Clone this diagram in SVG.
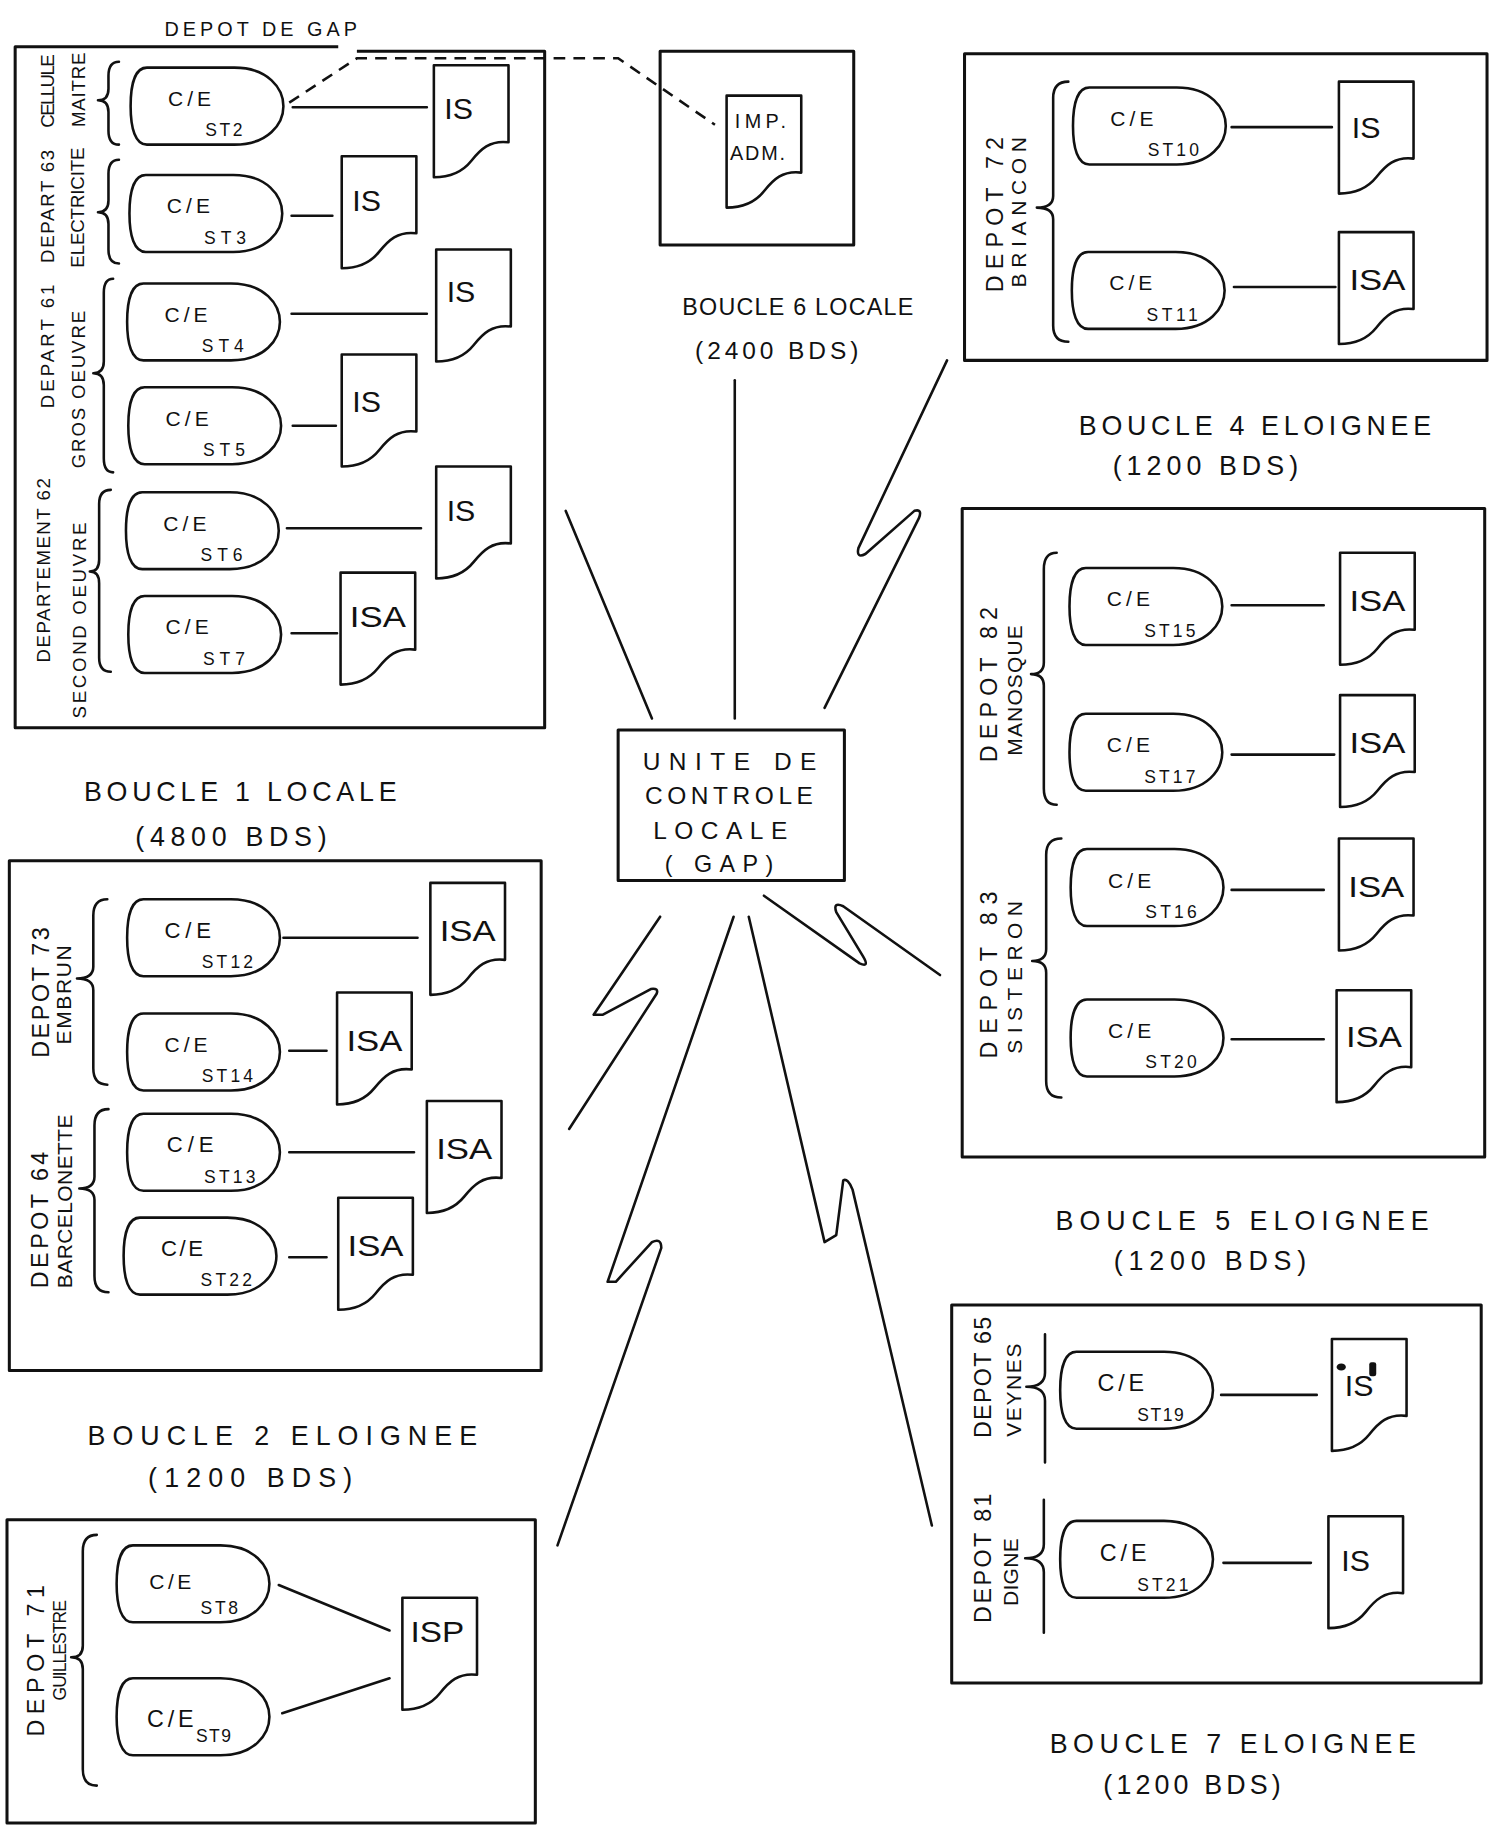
<svg xmlns="http://www.w3.org/2000/svg" xmlns:xlink="http://www.w3.org/1999/xlink" width="1495" height="1829" viewBox="0 0 1495 1829">
<style>
.b{fill:none;stroke:#111;stroke-width:2.6;stroke-linejoin:round}
.c{fill:none;stroke:#111;stroke-width:2.2;stroke-linecap:round;stroke-linejoin:round}
.d{fill:none;stroke:#111;stroke-width:2.2;stroke-dasharray:10 7}
.s{fill:#fff;stroke:#111;stroke-width:2.2;stroke-linejoin:round}
.t{font-family:"Liberation Sans",Arial,sans-serif;fill:#111}
.big{font-size:23px}
.v{font-size:16px}
.vb{font-size:20px}
.vs{font-size:18px}
.ce{font-size:18px}
.sn{font-size:15px}
.dt{font-size:26px}
</style>
<defs>
<path id="stn" d="M14,0 H89 C118,0 131,18 131,33 C131,48 118,66 89,66 H14 C4,66 0,52 0,33 C0,14 4,0 14,0 Z"/>
<path id="doc" d="M0,0 H64 V66 C48,64 40,72 32,82 C24,92 12,96 0,96 Z"/>
</defs>
<rect width="1495" height="1829" fill="#fff"/>
<g transform="scale(1.1663)">

<!-- Connectors -->
<g id="connectors">
<path class="d" d="M248,88 L306,50 H530 L613,107"/>
<path class="c" d="M251,92 H366 M250,185 H285 M250,269 H366 M251,365 H288 M246,453 H361 M250,543 H289"/>
<path class="c" d="M1056,109 H1142 M1058,246 H1145 M1056,519 H1135 M1056,647 H1144 M1056,763 H1135 M1056,891 H1135 M1047,1196 H1129 M1049,1340 H1124"/>
<path class="c" d="M243,804 H358 M248,901 H280 M248,988 H355 M248,1078 H280"/>
<path class="c" d="M239,1359 L334,1398 M242,1469 L334,1439"/>
<path class="c" d="M485,438 L559,616"/>
<path class="c" d="M630,326 L630,616"/>
<path class="c" d="M812,309 L736,470 Q734,479 742,475 L784,438 Q791,436 788,444 L707,607"/>
<path class="c" d="M566,786 L509,870 L517,870 L558,848 Q565,847 563,852 L488,968"/>
<path class="c" d="M629,786 L521,1099 L528,1099 L559,1065 Q567,1061 567,1070 L478,1325"/>
<path class="c" d="M642,786 L707,1065 L717,1059 L723,1012 Q727,1010 731,1020 L799,1308"/>
<path class="c" d="M655,768 L737,826 Q746,830 740,820 L717,782 Q714,773 723,777 L806,836"/>
</g>

<!-- Depot de GAP -->
<g id="depot-gap">
<path class="b" d="M290,40 H13 V624 H467 V44 H306"/>
<text class="t" style="font-size:17px" x="141" y="31" textLength="165" lengthAdjust="spacing">DEPOT DE GAP</text>
<text class="t v" transform="translate(46,78) rotate(-90)" text-anchor="middle" textLength="63" lengthAdjust="spacing">CELLULE</text>
<text class="t v" transform="translate(73,77) rotate(-90)" text-anchor="middle" textLength="64" lengthAdjust="spacing">MAITRE</text>
<text class="t v" transform="translate(46,177) rotate(-90)" text-anchor="middle" textLength="97" lengthAdjust="spacing">DEPART 63</text>
<text class="t v" transform="translate(72,178) rotate(-90)" text-anchor="middle" textLength="103" lengthAdjust="spacing">ELECTRICITE</text>
<text class="t v" transform="translate(46,297) rotate(-90)" text-anchor="middle" textLength="106" lengthAdjust="spacing">DEPART 61</text>
<text class="t v" transform="translate(73,334) rotate(-90)" text-anchor="middle" textLength="135" lengthAdjust="spacing">GROS OEUVRE</text>
<text class="t v" transform="translate(43,489) rotate(-90)" text-anchor="middle" textLength="158" lengthAdjust="spacing">DEPARTEMENT 62</text>
<text class="t v" transform="translate(74,532) rotate(-90)" text-anchor="middle" textLength="168" lengthAdjust="spacing">SECOND OEUVRE</text>
<path class="c" d="M102,53 Q93,53 93,65 L93,76 Q93,86 84,86 Q93,86 93,96 L93,112 Q93,124 102,124"/>
<path class="c" d="M102,137 Q93,137 93,149 L93,172 Q93,182 84,182 Q93,182 93,192 L93,214 Q93,226 102,226"/>
<path class="c" d="M97,239 Q89,239 89,251 L89,310 Q89,320 80,320 Q89,320 89,330 L89,393 Q89,405 97,405"/>
<path class="c" d="M95,420 Q85,420 85,432 L85,480 Q85,490 77,490 Q85,490 85,500 L85,564 Q85,576 95,576"/>
<g id="st2"><use href="#stn" class="s" x="112" y="58"/><text class="t ce" x="144" y="91" textLength="37" lengthAdjust="spacing">C/E</text><text class="t sn" x="176" y="117" textLength="32" lengthAdjust="spacing">ST2</text></g>
<g id="st3"><use href="#stn" class="s" x="111" y="150"/><text class="t ce" x="143" y="183" textLength="37" lengthAdjust="spacing">C/E</text><text class="t sn" x="175" y="209" textLength="36" lengthAdjust="spacing">ST3</text></g>
<g id="st4"><use href="#stn" class="s" x="109" y="243"/><text class="t ce" x="141" y="276" textLength="37" lengthAdjust="spacing">C/E</text><text class="t sn" x="173" y="302" textLength="36" lengthAdjust="spacing">ST4</text></g>
<g id="st5"><use href="#stn" class="s" x="110" y="332"/><text class="t ce" x="142" y="365" textLength="37" lengthAdjust="spacing">C/E</text><text class="t sn" x="174" y="391" textLength="36" lengthAdjust="spacing">ST5</text></g>
<g id="st6"><use href="#stn" class="s" x="108" y="422"/><text class="t ce" x="140" y="455" textLength="37" lengthAdjust="spacing">C/E</text><text class="t sn" x="172" y="481" textLength="36" lengthAdjust="spacing">ST6</text></g>
<g id="st7"><use href="#stn" class="s" x="110" y="511"/><text class="t ce" x="142" y="544" textLength="37" lengthAdjust="spacing">C/E</text><text class="t sn" x="174" y="570" textLength="36" lengthAdjust="spacing">ST7</text></g>
<g id="is-st2"><use href="#doc" class="s" x="372" y="56"/><text class="t dt" x="381" y="102">IS</text></g>
<g id="is-st3"><use href="#doc" class="s" x="293" y="134"/><text class="t dt" x="302" y="181">IS</text></g>
<g id="is-st4"><use href="#doc" class="s" x="374" y="214"/><text class="t dt" x="383" y="259">IS</text></g>
<g id="is-st5"><use href="#doc" class="s" x="293" y="304"/><text class="t dt" x="302" y="353">IS</text></g>
<g id="is-st6"><use href="#doc" class="s" x="374" y="400"/><text class="t dt" x="383" y="447">IS</text></g>
<g id="isa-st7"><use href="#doc" class="s" x="292" y="491"/><text class="t dt" x="300" y="538" textLength="48" lengthAdjust="spacingAndGlyphs">ISA</text></g>
</g>

<!-- Imprimante administrative -->
<g id="imp-adm">
<path class="b" d="M566,44 H732 V210 H566 Z"/>
<use href="#doc" class="s" x="623" y="82"/>
<text class="t" style="font-size:17px" x="630" y="110" textLength="44" lengthAdjust="spacing">IMP.</text>
<text class="t" style="font-size:17px" x="626" y="137" textLength="47" lengthAdjust="spacing">ADM.</text>
</g>
<g id="label-boucle6">
<text class="t" style="font-size:20px" x="585" y="270" textLength="198" lengthAdjust="spacing">BOUCLE 6 LOCALE</text>
<text class="t" style="font-size:21px" x="596" y="308" textLength="140" lengthAdjust="spacing">(2400 BDS)</text>
</g>

<!-- Unite de controle locale -->
<g id="ucl">
<path class="b" d="M530,626 H724 V755 H530 Z"/>
<text class="t" style="font-size:21px" x="551" y="660" textLength="149" lengthAdjust="spacing">UNITE DE</text>
<text class="t" style="font-size:21px" x="553" y="689" textLength="144" lengthAdjust="spacing">CONTROLE</text>
<text class="t" style="font-size:21px" x="560" y="719" textLength="115" lengthAdjust="spacing">LOCALE</text>
<text class="t" style="font-size:20px" x="570" y="748" textLength="93" lengthAdjust="spacing">( GAP)</text>
</g>

<!-- Boucle 4 -->
<g id="boucle4">
<path class="b" d="M827,46 H1275 V309 H827 Z"/>
<text class="t vb" transform="translate(860,184) rotate(-90)" text-anchor="middle" textLength="133" lengthAdjust="spacing">DEPOT 72</text>
<text class="t vs" transform="translate(880,182) rotate(-90)" text-anchor="middle" textLength="129" lengthAdjust="spacing">BRIANCON</text>
<path class="c" d="M916,70 Q903,70 903,84 L903,168 Q903,178 889,178 Q903,178 903,188 L903,279 Q903,293 916,293"/>
<g id="st10"><use href="#stn" class="s" x="920" y="75"/><text class="t ce" x="952" y="108" textLength="37" lengthAdjust="spacing">C/E</text><text class="t sn" x="984" y="134" textLength="44" lengthAdjust="spacing">ST10</text></g>
<g id="st11"><use href="#stn" class="s" x="919" y="216"/><text class="t ce" x="951" y="249" textLength="37" lengthAdjust="spacing">C/E</text><text class="t sn" x="983" y="275" textLength="44" lengthAdjust="spacing">ST11</text></g>
<g id="is-st10"><use href="#doc" class="s" x="1148" y="70"/><text class="t dt" x="1159" y="118">IS</text></g>
<g id="isa-st11"><use href="#doc" class="s" x="1148" y="199"/><text class="t dt" x="1157" y="249" textLength="48" lengthAdjust="spacingAndGlyphs">ISA</text></g>
<text class="t big" x="925" y="373" textLength="302" lengthAdjust="spacing">BOUCLE 4 ELOIGNEE</text>
<text class="t big" x="954" y="407" textLength="159" lengthAdjust="spacing">(1200 BDS)</text>
</g>

<!-- Boucle 5 -->
<g id="boucle5">
<path class="b" d="M825,436 H1273 V992 H825 Z"/>
<text class="t vb" transform="translate(855,587) rotate(-90)" text-anchor="middle" textLength="133" lengthAdjust="spacing">DEPOT 82</text>
<text class="t vs" transform="translate(876,592) rotate(-90)" text-anchor="middle" textLength="112" lengthAdjust="spacing">MANOSQUE</text>
<text class="t vb" transform="translate(855,836) rotate(-90)" text-anchor="middle" textLength="143" lengthAdjust="spacing">DEPOT 83</text>
<text class="t vs" transform="translate(876,838) rotate(-90)" text-anchor="middle" textLength="131" lengthAdjust="spacing">SISTERON</text>
<path class="c" d="M906,474 Q895,474 895,488 L895,568 Q895,578 884,578 Q895,578 895,588 L895,676 Q895,690 906,690"/>
<path class="c" d="M910,719 Q897,719 897,733 L897,814 Q897,824 885,824 Q897,824 897,834 L897,927 Q897,941 910,941"/>
<g id="st15"><use href="#stn" class="s" x="917" y="487"/><text class="t ce" x="949" y="520" textLength="37" lengthAdjust="spacing">C/E</text><text class="t sn" x="981" y="546" textLength="44" lengthAdjust="spacing">ST15</text></g>
<g id="st17"><use href="#stn" class="s" x="917" y="612"/><text class="t ce" x="949" y="645" textLength="37" lengthAdjust="spacing">C/E</text><text class="t sn" x="981" y="671" textLength="44" lengthAdjust="spacing">ST17</text></g>
<g id="st16"><use href="#stn" class="s" x="918" y="728"/><text class="t ce" x="950" y="761" textLength="37" lengthAdjust="spacing">C/E</text><text class="t sn" x="982" y="787" textLength="44" lengthAdjust="spacing">ST16</text></g>
<g id="st20"><use href="#stn" class="s" x="918" y="857"/><text class="t ce" x="950" y="890" textLength="37" lengthAdjust="spacing">C/E</text><text class="t sn" x="982" y="916" textLength="44" lengthAdjust="spacing">ST20</text></g>
<g id="isa-st15"><use href="#doc" class="s" x="1149" y="474"/><text class="t dt" x="1157" y="524" textLength="48" lengthAdjust="spacingAndGlyphs">ISA</text></g>
<g id="isa-st17"><use href="#doc" class="s" x="1149" y="596"/><text class="t dt" x="1157" y="646" textLength="48" lengthAdjust="spacingAndGlyphs">ISA</text></g>
<g id="isa-st16"><use href="#doc" class="s" x="1148" y="719"/><text class="t dt" x="1156" y="769" textLength="48" lengthAdjust="spacingAndGlyphs">ISA</text></g>
<g id="isa-st20"><use href="#doc" class="s" x="1146" y="849"/><text class="t dt" x="1154" y="898" textLength="48" lengthAdjust="spacingAndGlyphs">ISA</text></g>
<text class="t big" x="905" y="1055" textLength="320" lengthAdjust="spacing">BOUCLE 5 ELOIGNEE</text>
<text class="t big" x="955" y="1089" textLength="165" lengthAdjust="spacing">(1200 BDS)</text>
</g>

<!-- Boucle 7 -->
<g id="boucle7">
<path class="b" d="M816,1119 H1270 V1443 H816 Z"/>
<text class="t vb" transform="translate(850,1181) rotate(-90)" text-anchor="middle" textLength="104" lengthAdjust="spacing">DEPOT 65</text>
<text class="t vs" transform="translate(875,1192) rotate(-90)" text-anchor="middle" textLength="80" lengthAdjust="spacing">VEYNES</text>
<text class="t vb" transform="translate(850,1336) rotate(-90)" text-anchor="middle" textLength="111" lengthAdjust="spacing">DEPOT 81</text>
<text class="t vs" transform="translate(873,1348) rotate(-90)" text-anchor="middle" textLength="58" lengthAdjust="spacing">DIGNE</text>
<path class="c" d="M896,1144 L896,1177 Q896,1189 880,1189 Q896,1189 896,1201 L896,1254"/>
<path class="c" d="M895,1286 L895,1324 Q895,1336 879,1336 Q895,1336 895,1348 L895,1400"/>
<g id="st19"><use href="#stn" class="s" x="909" y="1159"/><text class="t ce" style="font-size:20px" x="941" y="1193" textLength="40" lengthAdjust="spacing">C/E</text><text class="t sn" x="975" y="1218" textLength="40" lengthAdjust="spacing">ST19</text></g>
<g id="st21"><use href="#stn" class="s" x="909" y="1304"/><text class="t ce" style="font-size:20px" x="943" y="1338" textLength="40" lengthAdjust="spacing">C/E</text><text class="t sn" x="975" y="1364" textLength="44" lengthAdjust="spacing">ST21</text></g>
<g id="is-st19"><use href="#doc" class="s" x="1142" y="1148"/><text class="t dt" x="1153" y="1197">IS</text><ellipse cx="1150" cy="1172" rx="4" ry="3" fill="#111"/><rect x="1174" y="1168" width="6" height="12" rx="2" fill="#111"/></g>
<g id="is-st21"><use href="#doc" class="s" x="1139" y="1300"/><text class="t dt" x="1150" y="1347">IS</text></g>
<text class="t big" x="900" y="1503" textLength="314" lengthAdjust="spacing">BOUCLE 7 ELOIGNEE</text>
<text class="t big" x="946" y="1538" textLength="152" lengthAdjust="spacing">(1200 BDS)</text>
</g>

<!-- Boucle 1 -->
<g id="boucle1">
<text class="t big" x="72" y="687" textLength="268" lengthAdjust="spacing">BOUCLE 1 LOCALE</text>
<text class="t big" x="116" y="725" textLength="164" lengthAdjust="spacing">(4800 BDS)</text>
<path class="b" d="M8,738 H464 V1175 H8 Z"/>
<text class="t vb" transform="translate(42,851) rotate(-90)" text-anchor="middle" textLength="112" lengthAdjust="spacing">DEPOT 73</text>
<text class="t vs" transform="translate(61,853) rotate(-90)" text-anchor="middle" textLength="85" lengthAdjust="spacing">EMBRUN</text>
<text class="t vb" transform="translate(41,1046) rotate(-90)" text-anchor="middle" textLength="117" lengthAdjust="spacing">DEPOT 64</text>
<text class="t vs" transform="translate(62,1030) rotate(-90)" text-anchor="middle" textLength="149" lengthAdjust="spacing">BARCELONETTE</text>
<path class="c" d="M92,771 Q80,771 80,785 L80,829 Q80,839 66,839 Q80,839 80,849 L80,916 Q80,930 92,930"/>
<path class="c" d="M93,951 Q81,951 81,965 L81,1009 Q81,1019 68,1019 Q81,1019 81,1029 L81,1094 Q81,1108 93,1108"/>
<g id="st12"><use href="#stn" class="s" x="109" y="771"/><text class="t ce" style="font-size:19px" x="141" y="804" textLength="40" lengthAdjust="spacing">C/E</text><text class="t sn" x="173" y="830" textLength="44" lengthAdjust="spacing">ST12</text></g>
<g id="st14"><use href="#stn" class="s" x="109" y="869"/><text class="t ce" x="141" y="902" textLength="37" lengthAdjust="spacing">C/E</text><text class="t sn" x="173" y="928" textLength="44" lengthAdjust="spacing">ST14</text></g>
<g id="st13"><use href="#stn" class="s" x="109" y="955"/><text class="t ce" style="font-size:19px" x="143" y="988" textLength="40" lengthAdjust="spacing">C/E</text><text class="t sn" x="175" y="1014" textLength="44" lengthAdjust="spacing">ST13</text></g>
<g id="st22"><use href="#stn" class="s" x="106" y="1044"/><text class="t ce" style="font-size:19px" x="138" y="1077" textLength="36" lengthAdjust="spacing">C/E</text><text class="t sn" x="172" y="1103" textLength="44" lengthAdjust="spacing">ST22</text></g>
<g id="isa-st12"><use href="#doc" class="s" x="369" y="757"/><text class="t dt" x="377" y="807" textLength="48" lengthAdjust="spacingAndGlyphs">ISA</text></g>
<g id="isa-st14"><use href="#doc" class="s" x="289" y="851"/><text class="t dt" x="297" y="901" textLength="48" lengthAdjust="spacingAndGlyphs">ISA</text></g>
<g id="isa-st13"><use href="#doc" class="s" x="366" y="944"/><text class="t dt" x="374" y="994" textLength="48" lengthAdjust="spacingAndGlyphs">ISA</text></g>
<g id="isa-st22"><use href="#doc" class="s" x="290" y="1027"/><text class="t dt" x="298" y="1077" textLength="48" lengthAdjust="spacingAndGlyphs">ISA</text></g>
</g>

<!-- Boucle 2 -->
<g id="boucle2">
<text class="t big" x="75" y="1239" textLength="334" lengthAdjust="spacing">BOUCLE 2 ELOIGNEE</text>
<text class="t big" x="127" y="1275" textLength="175" lengthAdjust="spacing">(1200 BDS)</text>
<path class="b" d="M6,1303 H459 V1563 H6 Z"/>
<text class="t vb" transform="translate(38,1424) rotate(-90)" text-anchor="middle" textLength="130" lengthAdjust="spacing">DEPOT 71</text>
<text class="t" style="font-size:15px" transform="translate(57,1415) rotate(-90)" text-anchor="middle" textLength="86" lengthAdjust="spacing">GUILLESTRE</text>
<path class="c" d="M83,1316 Q71,1316 71,1330 L71,1411 Q71,1421 61,1421 Q71,1421 71,1431 L71,1517 Q71,1531 83,1531"/>
<g id="st8"><use href="#stn" class="s" x="100" y="1325"/><text class="t ce" x="128" y="1362" textLength="36" lengthAdjust="spacing">C/E</text><text class="t sn" x="172" y="1384" textLength="32" lengthAdjust="spacing">ST8</text></g>
<g id="st9"><use href="#stn" class="s" x="100" y="1439"/><text class="t ce" style="font-size:20px" x="126" y="1481" textLength="40" lengthAdjust="spacing">C/E</text><text class="t sn" x="168" y="1494" textLength="30" lengthAdjust="spacing">ST9</text></g>
<g id="isp"><use href="#doc" class="s" x="345" y="1370"/><text class="t dt" x="352" y="1408" textLength="46" lengthAdjust="spacingAndGlyphs">ISP</text></g>
</g>

</g>
</svg>
